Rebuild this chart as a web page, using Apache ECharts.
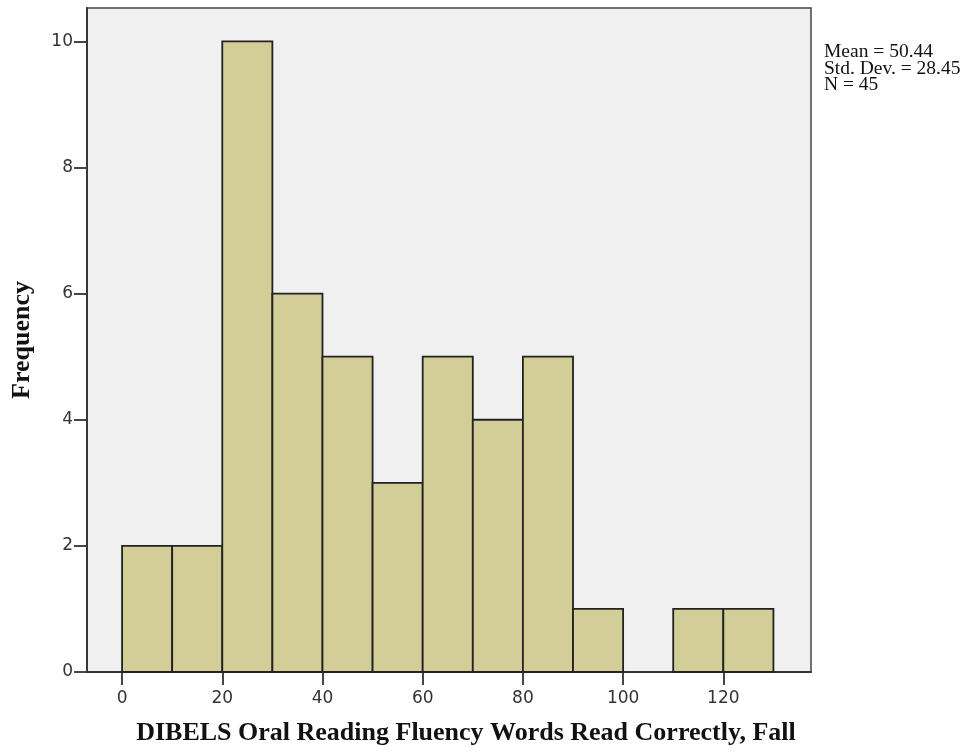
<!DOCTYPE html>
<html>
<head>
<meta charset="utf-8">
<script src="https://cdn.jsdelivr.net/npm/echarts@6/dist/echarts.min.js"></script>
<style>html,body{margin:0;padding:0;background:#fff}#c{width:967px;height:753px}</style>
</head>
<body>
<div id="c"></div>
<script>
const binStarts = [0,10,20,30,40,50,60,70,80,90,100,110,120];
const binWidth = 10;
const frequencies = [2,2,10,6,5,3,5,4,5,1,0,1,1];
const xTicks = [0,20,40,60,80,100,120];
const yTicks = [0,2,4,6,8,10];
const statsLines = ['Mean = 50.44','Std. Dev. = 28.45','N = 45'];
const xTitle = 'DIBELS Oral Reading Fluency Words Read Correctly, Fall';
const yTitle = 'Frequency';

const data = binStarts.map((s,i)=>[s, s+binWidth, frequencies[i]]).filter(d=>d[2]>0);

const chart = echarts.init(document.getElementById('c'));
chart.setOption({
  animation:false,
  grid:{left:87,right:156,top:8,bottom:81,show:true,backgroundColor:'#f0f0f0',borderColor:'#444',borderWidth:1.5},
  xAxis:{type:'value',min:-7,max:137.5,interval:20,
    axisLine:{show:true,onZero:false,lineStyle:{color:'#333',width:1.8}},
    axisTick:{show:true,length:13,lineStyle:{color:'#333',width:1.8},customValues:xTicks},
    axisLabel:{color:'#333',fontFamily:'DejaVu Sans',fontSize:17,margin:18,customValues:xTicks},
    splitLine:{show:false},
    name:xTitle,nameLocation:'middle',nameGap:48,
    nameTextStyle:{fontFamily:'Liberation Serif',fontWeight:'bold',fontSize:26,color:'#111',padding:[0,0,0,34]}
  },
  yAxis:{type:'value',min:0,max:10.53,interval:2,
    axisLine:{show:true,onZero:false,lineStyle:{color:'#333',width:1.8}},
    axisTick:{show:true,length:13,lineStyle:{color:'#333',width:1.8},customValues:yTicks},
    axisLabel:{color:'#333',fontFamily:'DejaVu Sans',fontSize:17,margin:14,customValues:yTicks},
    splitLine:{show:false},
    name:yTitle,nameLocation:'middle',nameGap:52,nameRotate:90,
    nameTextStyle:{fontFamily:'Liberation Serif',fontWeight:'bold',fontSize:26,color:'#111'}
  },
  graphic:[{type:'text',left:824,top:42,style:{text:statsLines.join('\n'),font:'19.5px "Liberation Serif"',lineHeight:16.5,fill:'#111'}}],
  series:[{type:'custom',
    renderItem:function(params,api){
      const p0 = api.coord([api.value(0), api.value(2)]);
      const p1 = api.coord([api.value(1), 0]);
      return {type:'rect',shape:{x:p0[0],y:p0[1],width:p1[0]-p0[0],height:p1[1]-p0[1]},
        style:{fill:'#d3ce97',stroke:'#222',lineWidth:1.8}};
    },
    encode:{x:[0,1],y:2},
    data:data
  }]
});
</script>
</body>
</html>
